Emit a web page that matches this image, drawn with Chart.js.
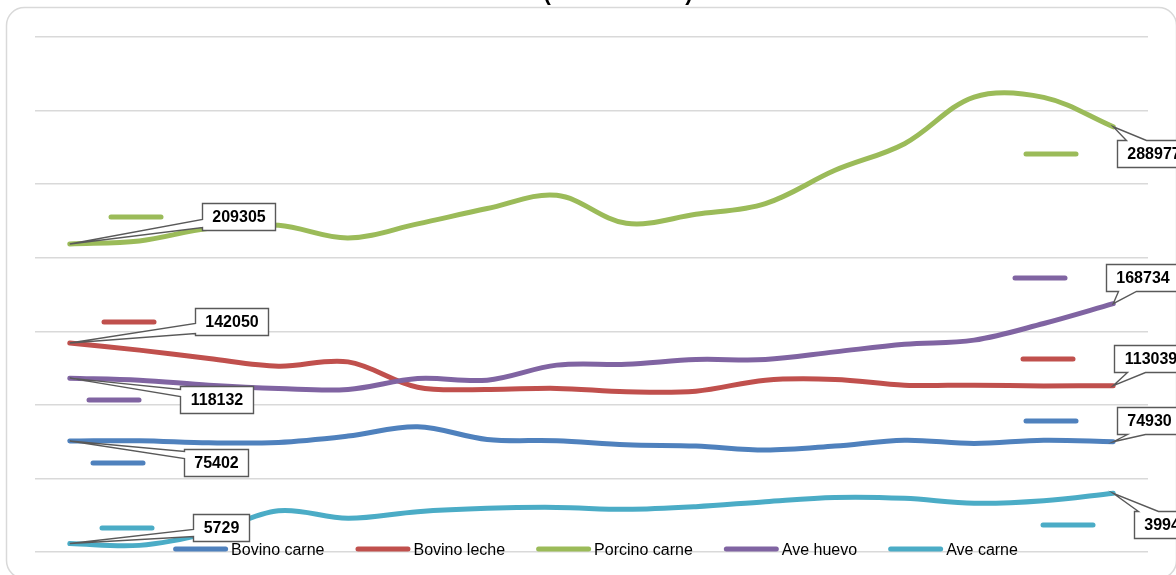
<!DOCTYPE html>
<html><head><meta charset="utf-8">
<script src="https://cdn.jsdelivr.net/npm/chart.js@4.4.1/dist/chart.umd.min.js"></script>
<style>html,body{margin:0;padding:0;background:#fff;overflow:hidden}#wrap{position:relative;width:1176px;height:575px}</style>
</head><body><div id="wrap"><canvas id="c" width="1176" height="575"></canvas></div>
<script>
// ---- data ----
const categories = ['1','2','3','4','5','6','7','8','9','10','11','12','13','14','15','16'];
const seriesNames = ['Bovino carne','Bovino leche','Porcino carne','Ave huevo','Ave carne'];
const bovinoCarne  = [75402, 75600, 74200, 74500, 78800, 85100, 76500, 75600, 72900, 72000, 69300, 72000, 76000, 73800, 76000, 74930];
const bovinoLeche  = [142050, 137200, 131500, 126300, 129200, 112000, 110500, 111200, 108900, 109300, 116800, 117300, 113400, 113400, 112900, 113039];
const porcinoCarne = [209305, 211400, 220000, 222000, 213400, 223000, 233400, 242400, 223400, 229500, 236800, 259400, 277500, 309200, 309000, 288977];
const aveHuevo     = [118132, 116800, 113400, 111200, 110500, 117900, 116800, 127000, 127600, 130800, 130800, 136000, 141200, 144000, 155300, 168734];
const aveCarne     = [5729, 4500, 13000, 28000, 22900, 27400, 29700, 30300, 29000, 30800, 34200, 37100, 36500, 33100, 34800, 39940];
const yMin = 0, yMax = 350000, yStep = 50000;
const titleText = '(en toneladas)';

// ---- styles ----
const colors = ['#4f81bd','#c0504d','#9bbb59','#8064a2','#4bacc6'];
const allSeries = [bovinoCarne, bovinoLeche, porcinoCarne, aveHuevo, aveCarne];
// label placement relative to the point (first and last point of each series)
const labelPlacement = [
  {first:{dx:114,dy:8,side:'left',a:2,b:9},    last:{dx:4,dy:-35,side:'bottom',a:10,b:28}},
  {first:{dx:125,dy:-35,side:'left',a:15,b:25},last:{dx:1,dy:-41,side:'bottom',a:13,b:31}},
  {first:{dx:132,dy:-41,side:'left',a:16,b:24},last:{dx:4,dy:13,side:'top',a:9,b:29}},
  {first:{dx:110,dy:8,side:'left',a:3,b:10},   last:{dx:-7,dy:-40,side:'bottom',a:12,b:30}},
  {first:{dx:123,dy:-30,side:'left',a:15,b:22},last:{dx:21,dy:18,side:'top',a:4,b:24}}
];
const FONT = '"Liberation Sans", Arial, sans-serif';

function roundRect(ctx,x,y,w,h,r){
  ctx.beginPath();
  ctx.moveTo(x+r,y);ctx.lineTo(x+w-r,y);ctx.arcTo(x+w,y,x+w,y+r,r);
  ctx.lineTo(x+w,y+h-r);ctx.arcTo(x+w,y+h,x+w-r,y+h,r);
  ctx.lineTo(x+r,y+h);ctx.arcTo(x,y+h,x,y+h-r,r);
  ctx.lineTo(x,y+r);ctx.arcTo(x,y,x+r,y,r);ctx.closePath();
}

function drawCallout(ctx,px,py,bx,by,bw,bh,side,a,b){
  ctx.beginPath();
  if(side==='left'){
    ctx.moveTo(bx,by);ctx.lineTo(bx+bw,by);ctx.lineTo(bx+bw,by+bh);ctx.lineTo(bx,by+bh);
    ctx.lineTo(bx,by+b);ctx.lineTo(px,py);ctx.lineTo(bx,by+a);
  } else if(side==='top'){
    ctx.moveTo(bx,by);ctx.lineTo(bx+a,by);ctx.lineTo(px,py);ctx.lineTo(bx+b,by);
    ctx.lineTo(bx+bw,by);ctx.lineTo(bx+bw,by+bh);ctx.lineTo(bx,by+bh);
  } else {
    ctx.moveTo(bx,by);ctx.lineTo(bx+bw,by);ctx.lineTo(bx+bw,by+bh);
    ctx.lineTo(bx+b,by+bh);ctx.lineTo(px,py);ctx.lineTo(bx+a,by+bh);ctx.lineTo(bx,by+bh);
  }
  ctx.closePath();
  ctx.fillStyle='#fff';ctx.fill();
  ctx.lineWidth=1.4;ctx.strokeStyle='#595959';ctx.lineJoin='miter';ctx.stroke();
}

const overlay = {
  id:'overlay',
  beforeDraw(chart){
    const ctx=chart.ctx;
    ctx.save();
    ctx.fillStyle='#fff';ctx.fillRect(0,0,chart.width,chart.height);
    roundRect(ctx,6.5,7.5,1170,571,18);
    ctx.lineWidth=1.5;ctx.strokeStyle='#d9d9d9';ctx.stroke();
    ctx.fillStyle='#000';ctx.font='bold 22px '+FONT;ctx.textAlign='center';ctx.textBaseline='alphabetic';
    ctx.fillText(titleText,618,0);
    ctx.restore();
  },
  afterDatasetsDraw(chart){
    const ctx=chart.ctx;
    ctx.save();
    // data labels
    chart.data.datasets.forEach((ds,i)=>{
      const meta=chart.getDatasetMeta(i);
      [['first',0],['last',ds.data.length-1]].forEach(([k,idx])=>{
        const pt=meta.data[idx];const cfg=labelPlacement[i][k];
        const txt=String(ds.data[idx]);
        ctx.font='bold 16px '+FONT;
        const tw=ctx.measureText(txt).width;
        const bw=Math.round(tw+20),bh=27;
        const bx=Math.round(pt.x+cfg.dx)+0.5,by=Math.round(pt.y+cfg.dy)+0.5;
        // legend key dash
        ctx.beginPath();ctx.lineCap='round';ctx.lineWidth=5;ctx.strokeStyle=ds.borderColor;
        ctx.moveTo(bx-91.5,by+bh/2);ctx.lineTo(bx-41.5,by+bh/2);ctx.stroke();
        drawCallout(ctx,pt.x,pt.y,bx,by,bw,bh,cfg.side,cfg.a,cfg.b);
        ctx.fillStyle='#000';ctx.textAlign='center';ctx.textBaseline='middle';
        ctx.fillText(txt,bx+bw/2,by+bh/2+1);
      });
    });
    // legend
    ctx.font='16px '+FONT;
    const items=chart.data.datasets.map(ds=>({label:ds.label,color:ds.borderColor,tw:ctx.measureText(ds.label).width}));
    const markW=55,gap1=3,gap2=31;
    let total=items.reduce((s,it)=>s+markW+gap1+it.tw,0)+gap2*(items.length-1);
    let x=595.5-total/2;const ly=549;
    items.forEach(it=>{
      ctx.beginPath();ctx.lineCap='round';ctx.lineWidth=5;ctx.strokeStyle=it.color;
      ctx.moveTo(x+2.5,ly);ctx.lineTo(x+markW-2.5,ly);ctx.stroke();
      ctx.fillStyle='#000';ctx.textAlign='left';ctx.textBaseline='alphabetic';
      ctx.fillText(it.label,x+markW+gap1,ly+5.5);
      x+=markW+gap1+it.tw+gap2;
    });
    ctx.restore();
  }
};

new Chart(document.getElementById('c'),{
  type:'line',
  data:{
    labels:categories,
    datasets:allSeries.map((d,i)=>({
      label:seriesNames[i],data:d,borderColor:colors[i],backgroundColor:colors[i],
      borderWidth:5,pointRadius:0,pointHoverRadius:0,tension:0.35,fill:false,
      borderCapStyle:'round',borderJoinStyle:'round',order:allSeries.length-i
    }))
  },
  options:{
    responsive:false,animation:false,devicePixelRatio:1,
    layout:{padding:{left:35,right:28,top:37,bottom:23}},
    plugins:{legend:{display:false},tooltip:{enabled:false},title:{display:false}},
    scales:{
      x:{type:'category',offset:true,display:false},
      y:{min:yMin,max:yMax,display:true,
         ticks:{display:false,stepSize:yStep},
         grid:{color:'#d9d9d9',lineWidth:1.5,drawTicks:false},
         border:{display:false}}
    },
    events:[]
  },
  plugins:[overlay]
});
</script></body></html>
